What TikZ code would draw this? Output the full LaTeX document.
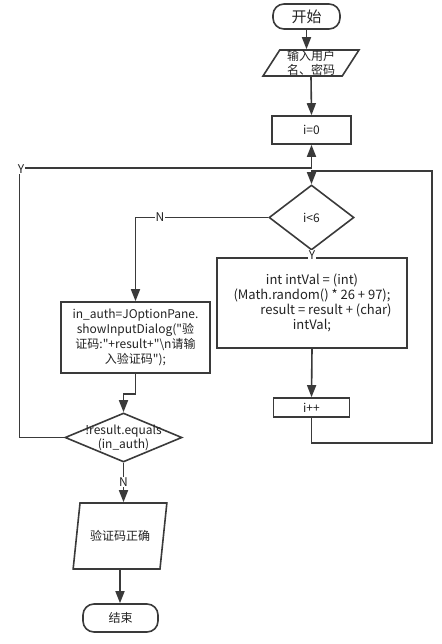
\documentclass[tikz,border=0pt]{standalone}
\usepackage{fontspec}
\setmainfont{Noto Sans CJK SC}
\usetikzlibrary{arrows.meta,shapes.geometric}
\definecolor{linegray}{HTML}{3A3A3A}
\definecolor{textgray}{HTML}{222222}
\tikzset{
	base/.style={draw=linegray, line width=1.6pt, inner sep=0pt, text=textgray, font=\fontsize{12}{15}\selectfont},
	terminal/.style={base, rectangle, rounded corners=11pt},
	proc/.style={base, rectangle, align=center},
	io/.style={base, trapezium, inner sep=2pt, trapezium stretches=true},
	decision/.style={base, diamond},
	inside/.style={align=center, inner sep=0pt, text=textgray, font=\fontsize{12}{14}\selectfont},
	tag/.style={fill=white, inner sep=0.6pt, text=textgray, font=\fontsize{12}{14}\selectfont},
	flow/.style={draw=linegray, line width=1.6pt, -{Triangle[length=12pt,width=9pt]}},
}

\begin{document}
\begin{tikzpicture}[x=1pt, y=-1pt]
				\useasboundingbox (0,0) rectangle (441,644);
				
				\node[terminal, minimum width=67, minimum height=25, font=\fontsize{15}{17}\selectfont] (start) at (306.5,16.5) {开始};
				\node[io, trapezium left angle=75, trapezium right angle=105, minimum width=96, minimum height=26, label={[inside]center:{输入用户\\名、密码}}] (input) at (311,63) {};
				\node[proc, minimum width=79, minimum height=28] (init) at (311.5,130) {i=0};
				\node[decision, minimum width=85, minimum height=65] (cond) at (311.5,217.5) {i<6};
				\node[proc, minimum width=190, minimum height=90, font=\fontsize{13}{15}\selectfont] (gen) at (312,303) {int intVal = (int)\\(Math.random() * 26 + 97);\\\hspace*{28pt}result = result + (char)\\intVal;};
				\node[proc, minimum width=76, minimum height=19] (inc) at (311.5,407.5) {i++};
				\node[proc, minimum width=149, minimum height=71] (ask) at (135.5,337.5) {in\_auth=JOptionPane.\\showInputDialog(\textquotedbl 验\\证码:\textquotedbl+result+\textquotedbl\textbackslash n请输\\入验证码\textquotedbl);};
				\node[decision, minimum width=117, minimum height=49, label={[inside]center:{!result.equals\\(in\_auth)}}] (check) at (123.5,437.5) {};
				\node[io, trapezium left angle=70, trapezium right angle=110, minimum width=94, minimum height=66] (ok) at (120,536) {验证码正确};
				\node[terminal, minimum width=75, minimum height=28] (stop) at (120.5,618) {结束};
				
				\coordinate (jl) at (311.5,168);
				\coordinate (jr) at (311.5,171);
				\coordinate (leftrail) at (19.5,168);
				\coordinate (rightrail) at (432,443);
				
				\draw[flow] (start.south) -- (start.south |- input.north);
				\draw[flow] (input.south) -- (init.north);
				\draw[flow] (check.west) -| (leftrail) -- (jl) -- (init.south);
				\draw[flow] (inc.south) |- (rightrail) |- (jr) -- (cond.north);
				\draw[flow] (cond.west) -| (ask.north);
				\draw[draw=linegray, line width=1.6pt, -{Triangle[length=4pt,width=8pt]}] (cond.south) -- (gen.north);
				\draw[flow] (gen.south) -- (inc.north);
				\draw[flow] (ask.south) -- ++(0,20) -| (check.north);
				\draw[flow] (check.south) -- (check.south |- ok.north);
				\draw[flow] (ok.south) -- (ok.south |- stop.north);
				
				\node[tag] (ytop) at (21,169) {Y};
				\node[tag] (nleft) at (160,217.5) {N};
				\node[tag] (ydown) at (312,255) {Y};
				\node[tag] (ndown) at (123.5,482) {N};
			\end{tikzpicture}
\end{document}
